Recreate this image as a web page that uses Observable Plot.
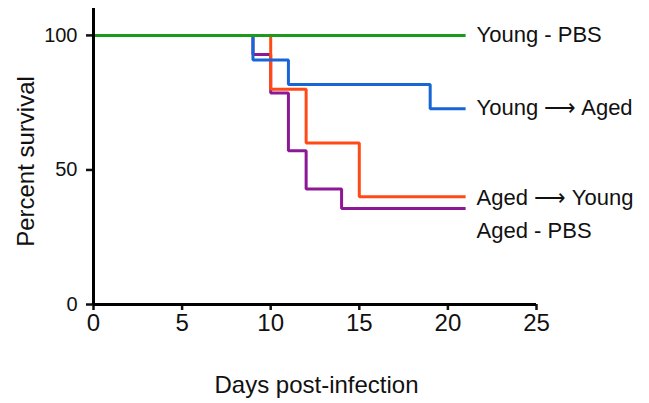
<!DOCTYPE html>
<html>
<head>
<meta charset="utf-8">
<script src="https://cdn.jsdelivr.net/npm/d3@7"></script>
<script src="https://cdn.jsdelivr.net/npm/@observablehq/plot@0.6"></script>
<style>
  html, body { margin: 0; padding: 0; background: #fff; }
  svg { display: block; }
</style>
</head>
<body>
<div id="chart"></div>
<script>
// Series names (labels at the right end of each curve)
const seriesNames = ["Young - PBS", "Young ⟶ Aged", "Aged ⟶ Young", "Aged - PBS"];

// Kaplan–Meier steps (day, percent survival)
const youngPbsDays = [0, 21];
const youngPbsSurvival = [100, 100];

const youngToAgedDays = [0, 9, 11, 19, 21];
const youngToAgedSurvival = [100, 90.9, 81.8, 72.7, 72.7];

const agedToYoungDays = [0, 10, 12, 15, 21];
const agedToYoungSurvival = [100, 80, 60, 40, 40];

const agedPbsDays = [0, 9, 10, 11, 12, 14, 21];
const agedPbsSurvival = [100, 92.9, 78.6, 57.1, 42.9, 35.7, 35.7];

const xTicks = [0, 5, 10, 15, 20, 25];
const yTicks = [0, 50, 100];

const colors = ["#1c9a1c", "#1866d6", "#ff4a16", "#8c1896"];

function toRows(days, surv) {
  return days.map((d, i) => ({day: d, survival: surv[i]}));
}
const series = [
  toRows(youngPbsDays, youngPbsSurvival),
  toRows(youngToAgedDays, youngToAgedSurvival),
  toRows(agedToYoungDays, agedToYoungSurvival),
  toRows(agedPbsDays, agedPbsSurvival)
];
const lastPoint = (rows) => [rows[rows.length - 1]];

const labelDy = [0, -1, 1, 23];
const drawOrder = [3, 2, 1, 0];

const lineMarks = drawOrder.map(i =>
  Plot.line(series[i], {x: "day", y: "survival", curve: "step-after",
    stroke: colors[i], strokeWidth: 3, strokeLinejoin: "miter", strokeLinecap: "butt"})
);
const labelMarks = [0, 1, 2, 3].map(i =>
  Plot.text(lastPoint(series[i]), {x: "day", y: "survival", text: () => seriesNames[i],
    textAnchor: "start", lineAnchor: "middle", dx: 11, dy: labelDy[i], fontSize: 22, fill: "#111"})
);

const chart = Plot.plot({
  width: 649,
  height: 403,
  marginLeft: 93,
  marginRight: 113,
  marginTop: 8,
  marginBottom: 99,
  style: {fontFamily: "'Liberation Sans', Arial, sans-serif", fontSize: "20px", color: "#111", background: "#fff"},
  x: {domain: [0, 25], axis: null},
  y: {domain: [0, 110], axis: null},
  marks: [
    Plot.axisX({ticks: xTicks, tickSize: 6, text: null, strokeWidth: 2.5, label: null}),
    Plot.axisY({ticks: yTicks, tickSize: 7, text: null, strokeWidth: 2.5, label: null}),
    Plot.text(xTicks, {x: d => d, frameAnchor: "bottom", textAnchor: "middle", lineAnchor: "top", dy: 9, fontSize: 24, fill: "#111"}),
    Plot.text(yTicks, {y: d => d, frameAnchor: "left", textAnchor: "end", lineAnchor: "middle", dx: -16, fontSize: 20, fill: "#111"}),
    ...lineMarks,
    Plot.ruleX([0], {stroke: "#000", strokeWidth: 3}),
    Plot.ruleY([0], {stroke: "#000", strokeWidth: 3}),
    ...labelMarks,
    Plot.text(["Percent survival"], {frameAnchor: "left", textAnchor: "middle", lineAnchor: "middle", rotate: -90, dx: -67, dy: 5, fontSize: 24, fill: "#111"}),
    Plot.text(["Days post-infection"], {frameAnchor: "bottom", textAnchor: "middle", lineAnchor: "middle", dx: 1.5, dy: 81, fontSize: 24, fill: "#111"})
  ]
});
document.getElementById("chart").appendChild(chart);
</script>
</body>
</html>
